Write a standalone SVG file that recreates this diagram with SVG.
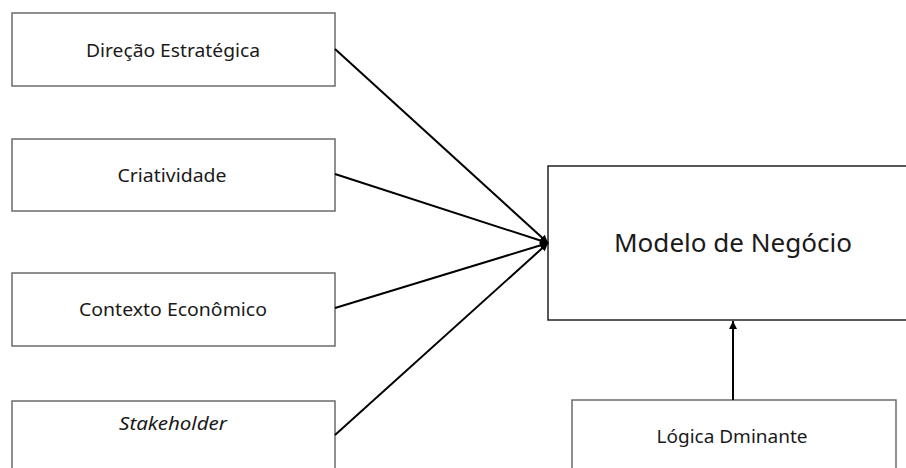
<svg xmlns="http://www.w3.org/2000/svg" width="906" height="468" viewBox="0 0 906 468">
<style>
.box{fill:#fff;stroke:#6b6b6b;stroke-width:1.5}
.main{fill:#fff;stroke:#222;stroke-width:1.5}
.t{font-family:"Noto Sans","Open Sans",sans-serif;font-size:17.5px;fill:#1a1a1a;text-anchor:middle}
.big{font-size:25px}
.it{font-style:italic}
.c{stroke:#000;stroke-width:2;fill:none}
</style>
<defs>
<marker id="ah" viewBox="0 0 10 10" refX="10" refY="5" markerWidth="4" markerHeight="4" markerUnits="strokeWidth" orient="auto">
<path d="M0,0 L10,5 L0,10 z" fill="#000"/>
</marker>
</defs>
<rect width="906" height="468" fill="#fff"/>
<g id="n1"><rect class="box" x="12" y="13" width="323" height="73"/><text class="t" x="173" y="57" textLength="174" lengthAdjust="spacingAndGlyphs">Direção Estratégica</text></g>
<g id="n2"><rect class="box" x="12" y="139" width="323" height="72"/><text class="t" x="172" y="182" textLength="109" lengthAdjust="spacingAndGlyphs">Criatividade</text></g>
<g id="n3"><rect class="box" x="12" y="273" width="323" height="73"/><text class="t" x="173" y="316" textLength="188" lengthAdjust="spacingAndGlyphs">Contexto Econômico</text></g>
<g id="n4"><rect class="box" x="12" y="401" width="323" height="80"/><text class="t it" x="173" y="430" textLength="108" lengthAdjust="spacingAndGlyphs">Stakeholder</text></g>
<g id="n5"><rect class="main" x="548" y="166" width="370" height="154"/><text class="t big" x="733" y="252" textLength="238" lengthAdjust="spacingAndGlyphs">Modelo de Negócio</text></g>
<g id="n6"><rect class="box" x="572" y="400" width="324" height="80"/><text class="t" x="732" y="443" textLength="151" lengthAdjust="spacingAndGlyphs">Lógica Dminante</text></g>
<g id="connectors">
<line class="c" x1="335" y1="49" x2="548" y2="243" marker-end="url(#ah)"/>
<line class="c" x1="335" y1="174" x2="548" y2="243" marker-end="url(#ah)"/>
<line class="c" x1="335" y1="308" x2="548" y2="243" marker-end="url(#ah)"/>
<line class="c" x1="335" y1="435" x2="548" y2="243" marker-end="url(#ah)"/>
<line class="c" x1="733" y1="400" x2="733" y2="321" marker-end="url(#ah)"/>
</g>
</svg>
